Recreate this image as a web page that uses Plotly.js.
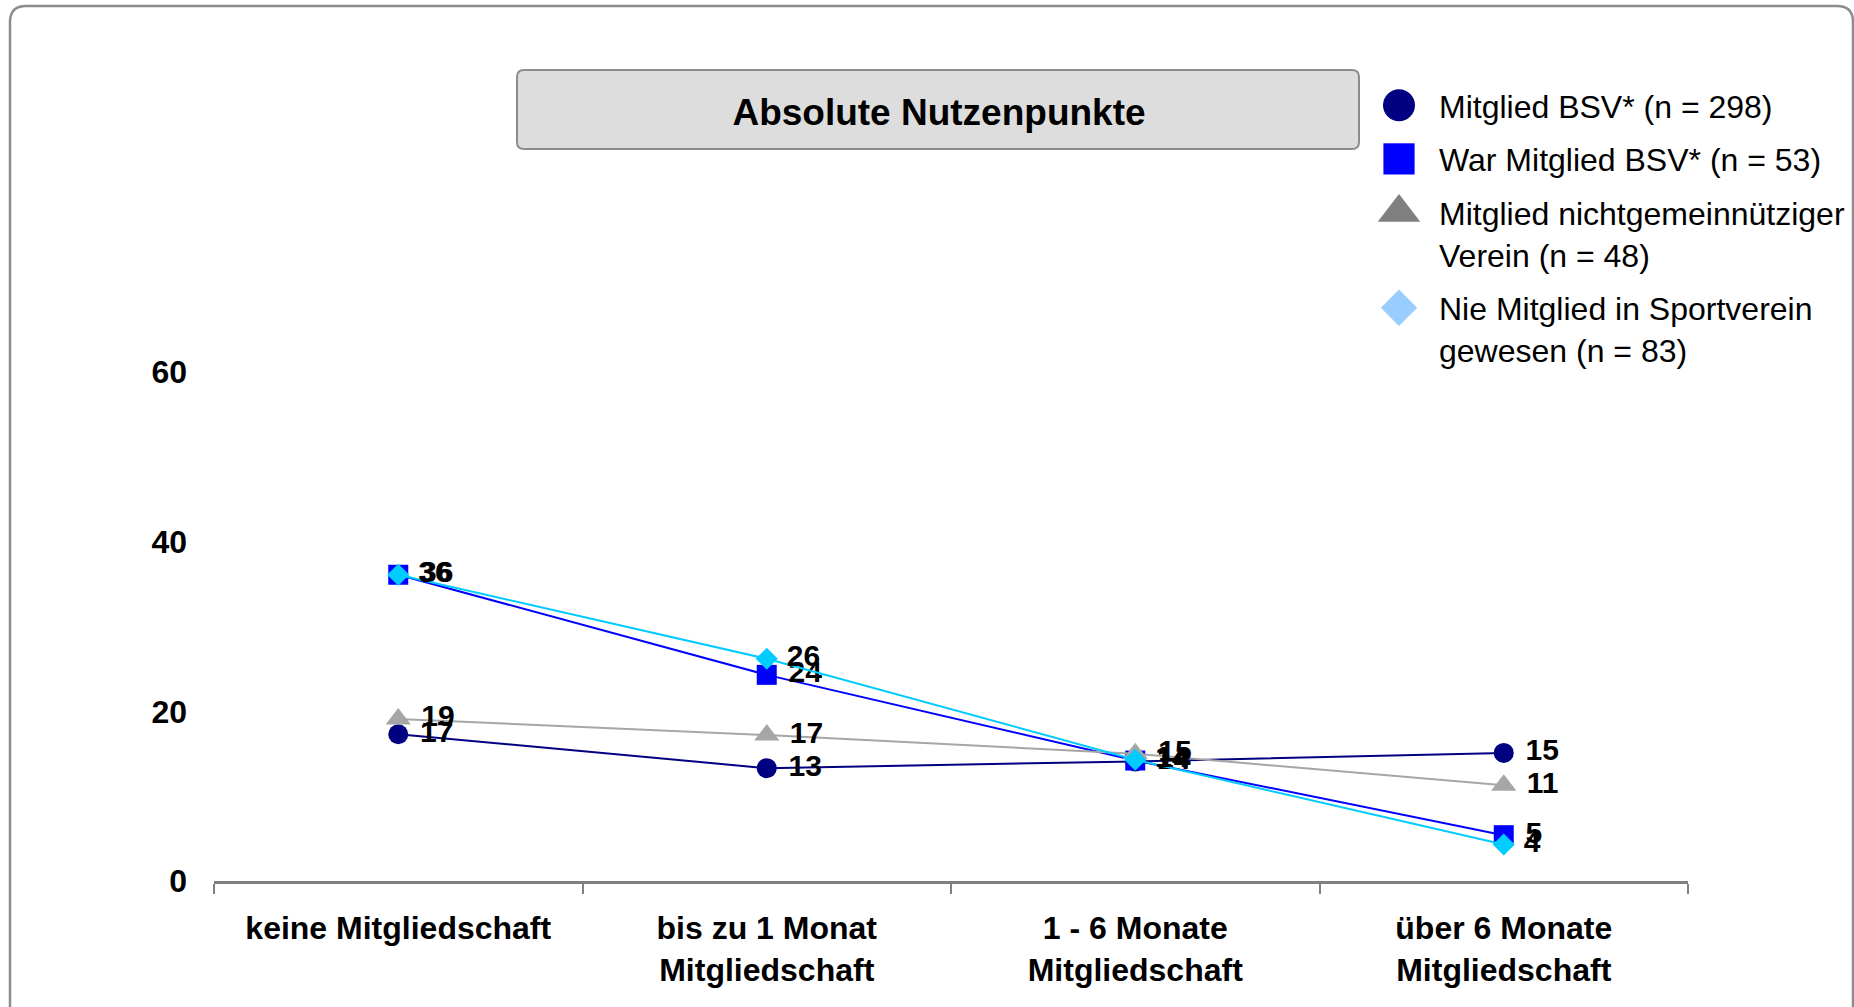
<!DOCTYPE html>
<html>
<head>
<meta charset="utf-8">
<script src="https://cdn.plot.ly/plotly-3.0.1.min.js"></script>
<style>
  html, body { margin: 0; padding: 0; background: #ffffff; }
  #chart { width: 1854px; height: 1007px; }
</style>
</head>
<body>
<div id="chart"></div>
<script>
// ---------- data ----------
const categories = [
  "keine Mitgliedschaft",
  "bis zu 1 Monat<br>Mitgliedschaft",
  "1 - 6 Monate<br>Mitgliedschaft",
  "über 6 Monate<br>Mitgliedschaft"
];
const seriesNames = [
  "Mitglied BSV* (n = 298)",
  "War Mitglied BSV* (n = 53)",
  "Mitglied nichtgemeinnütziger<br>Verein (n = 48)",
  "Nie Mitglied in Sportverein<br>gewesen (n = 83)"
];
const mitgliedBSV      = [17.3, 13.3, 14.1, 15.1];
const warMitgliedBSV   = [36.1, 24.3, 14.2, 5.4];
const nichtgemeinn     = [19.1, 17.2, 15.0, 11.3];
const nieMitglied      = [36.1, 26.2, 14.3, 4.3];
const yTicks = [0, 20, 40, 60];
const chartTitle = "Absolute Nutzenpunkte";

// ---------- styling ----------
const FONT = "'Liberation Sans', Arial, Helvetica, sans-serif";
const W = 1854, H = 1007;
const L = 214, R = 166, T = 372, B = 126;
const PW = W - L - R, PH = H - T - B;
const px = x => (x - L) / PW;
const py = y => (H - B - y) / PH;

function roundedPath(x0, y0, x1, y1, r, closed) {
  const f = (x, y) => px(x).toFixed(5) + "," + py(y).toFixed(5);
  let p = "M" + f(x0, y1 - (closed ? r : 0)) +
    " L" + f(x0, y0 + r) +
    " Q" + f(x0, y0) + " " + f(x0 + r, y0) +
    " L" + f(x1 - r, y0) +
    " Q" + f(x1, y0) + " " + f(x1, y0 + r);
  if (closed) {
    p += " L" + f(x1, y1 - r) +
      " Q" + f(x1, y1) + " " + f(x1 - r, y1) +
      " L" + f(x0 + r, y1) +
      " Q" + f(x0, y1) + " " + f(x0, y1 - r) + " Z";
  } else {
    p += " L" + f(x1, y1);
  }
  return p;
}

const series = [
  {vals: mitgliedBSV,    color: "#000080", symbol: "circle",      size: 20, legColor: "#000080", legScale: 2.0},
  {vals: warMitgliedBSV, color: "#0000ff", symbol: "square",      size: 20, legColor: "#0000ff", legScale: 1.95},
  {vals: nichtgemeinn,   color: "#a6a6a6", symbol: "triangle-up", size: 22, legColor: "#808080", legScale: 2.3},
  {vals: nieMitglied,    color: "#00ccff", symbol: "diamond",     size: 17, legColor: "#99ccff", legScale: 1.75}
];

const traces = [];
series.forEach((s, i) => {
  traces.push({
    type: "scatter",
    mode: "lines+markers+text",
    x: categories,
    y: s.vals,
    text: s.vals.map(v => "\u00a0" + String(Math.round(v))),
    textposition: "middle right",
    textfont: {family: FONT, size: 30, color: "#000000", weight: "bold"},
    cliponaxis: false,
    line: {color: s.color, width: 2},
    marker: {symbol: s.symbol, size: s.size, color: s.color, line: {width: 0}},
    showlegend: false,
    hoverinfo: "skip"
  });
});
series.forEach((s, i) => {
  traces.push({
    type: "scatter",
    mode: "markers",
    x: [null],
    y: [null],
    name: seriesNames[i],
    legendgroup: "g" + i,
    marker: {symbol: s.symbol, size: 16, color: s.legColor, line: {width: 0}},
    showlegend: true,
    hoverinfo: "skip"
  });
});

const layout = {
  width: W,
  height: H,
  margin: {l: L, r: R, t: T, b: B, pad: 0, autoexpand: false},
  paper_bgcolor: "#ffffff",
  plot_bgcolor: "rgba(0,0,0,0)",
  font: {family: FONT, color: "#000000"},
  title: {
    text: chartTitle,
    x: 939 / W, xref: "container", xanchor: "center",
    y: 1 - 112 / H, yref: "container", yanchor: "middle",
    font: {family: FONT, size: 37, color: "#000000", weight: "bold"},
    automargin: false
  },
  xaxis: {
    type: "category",
    range: [-0.5, 3.5],
    showline: true, linecolor: "#808080", linewidth: 3,
    ticks: "outside", tickson: "boundaries", ticklen: 10, tickwidth: 2, tickcolor: "#808080",
    showgrid: false, zeroline: false,
    tickangle: 0,
    tickfont: {family: FONT, size: 32, color: "#000000", weight: "bold"},
    ticklabelstandoff: 17,
    automargin: false,
    fixedrange: true
  },
  yaxis: {
    range: [0, 60],
    tickvals: yTicks,
    ticktext: yTicks.map(String),
    showline: false, showgrid: false, zeroline: false, ticks: "",
    tickfont: {family: FONT, size: 32, color: "#000000", weight: "bold"},
    ticklabelstandoff: 26,
    automargin: false,
    fixedrange: true
  },
  legend: {
    x: 1359 / W, xref: "container", xanchor: "left",
    y: 1 - 78 / H, yref: "container", yanchor: "top",
    bgcolor: "rgba(0,0,0,0)", borderwidth: 0,
    font: {family: FONT, size: 32, color: "#000000"},
    traceorder: "grouped", tracegroupgap: 9,
    itemwidth: 70,
    valign: "top", itemclick: false, itemdoubleclick: false
  },
  shapes: [
    {type: "path", xref: "paper", yref: "paper", path: roundedPath(10, 6, 1853, 1012, 16, false),
     line: {color: "#8c8c8c", width: 2.5}, fillcolor: "rgba(0,0,0,0)", layer: "below"},
    {type: "path", xref: "paper", yref: "paper", path: roundedPath(517, 70, 1359, 149, 7, true),
     line: {color: "#8c8c8c", width: 2}, fillcolor: "#dddddd", layer: "below"}
  ],
  showlegend: true
};

Plotly.newPlot("chart", traces, layout, {displayModeBar: false, staticPlot: true}).then(gd => {
  const items = gd.querySelectorAll(".legend .traces");
  items.forEach((g, i) => {
    const s = series[i];
    if (!s) return;
    g.querySelectorAll(".legendpoints path.scatterpts").forEach(p => {
      const t = p.getAttribute("transform") || "";
      p.setAttribute("transform", t + " scale(" + s.legScale + ")");
    });
  });
});
</script>
</body>
</html>
